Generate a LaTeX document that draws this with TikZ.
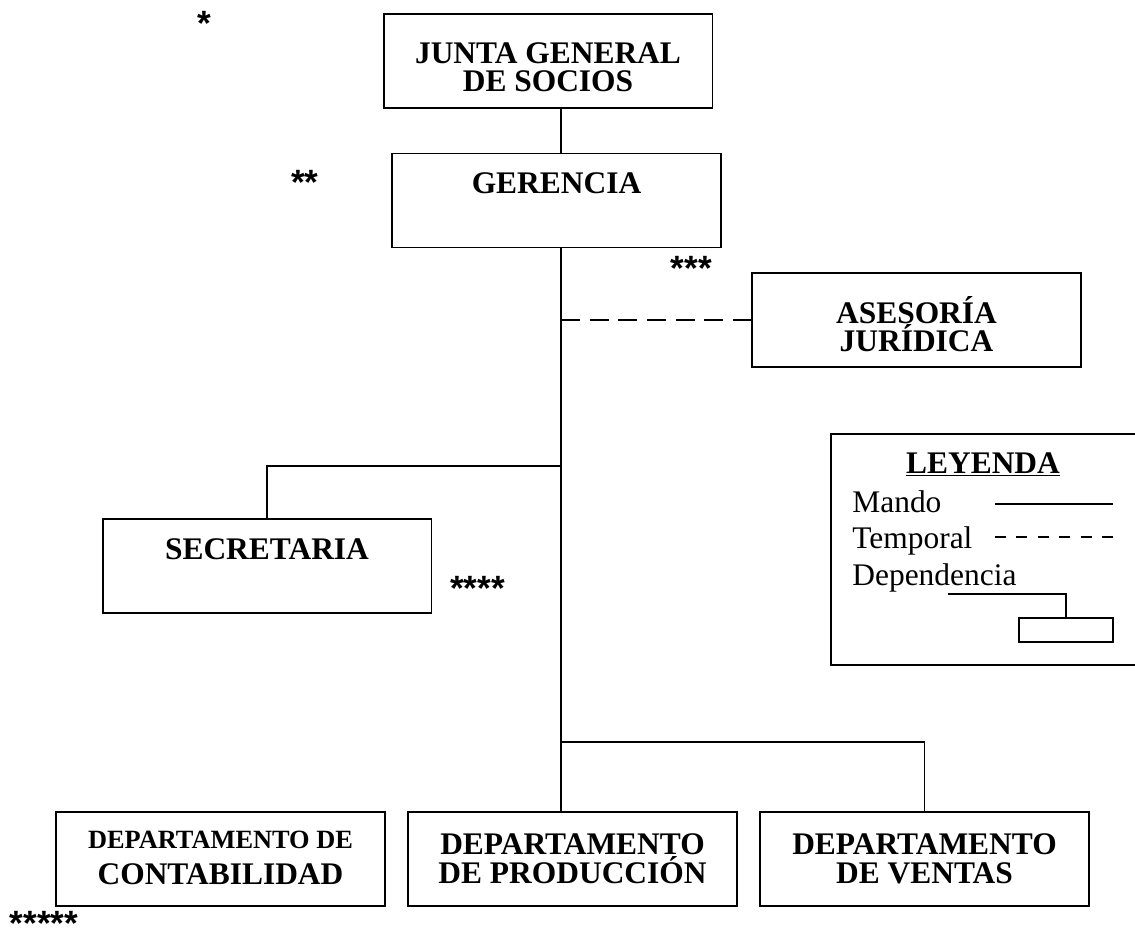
\documentclass[tikz,border=0pt]{standalone}
\usepackage{fontspec}
\setmainfont{Liberation Serif}
\newfontfamily\starfont{Liberation Sans}
\tikzstyle{box} = [rectangle, draw, line width=1.1pt, minimum width=6.58cm,
    minimum height=1.88cm, inner sep=0pt]
\tikzstyle{title} = [font=\bfseries\fontsize{17.9}{16.4}\selectfont,
    align=center, anchor=base, inner sep=0pt]
\tikzstyle{mando} = [draw, line width=0.85pt]
\tikzstyle{temporal} = [draw, line width=0.85pt, dash pattern=on 0.38cm off 0.193cm]
\tikzstyle{stars} = [font=\starfont\bfseries\fontsize{20}{24}\selectfont,
    anchor=base, inner sep=0pt]
\tikzstyle{legtext} = [font=\fontsize{17.9}{20}\selectfont, anchor=base west, inner sep=0pt]

\begin{document}
\begin{tikzpicture}[x=0.02cm, y=-0.02cm]
   \useasboundingbox (0,0) rectangle (1135,935);
   \clip (0,0) rectangle (1135,935);
   % Place nodes
    \node [box] (junta) at (548,61) {};
    \node [box] (ger) at (556.5,200.5) {};
    \node [box] (ase) at (916.5,320) {};
    \node [box] (sec) at (267,566) {};
    \node [box] (cont) at (220.5,859) {};
    \node [box] (prod) at (572.5,859) {};
    \node [box] (ven) at (924.5,859) {};
    \node [title] (junta-t) at (548,92) {JUNTA GENERAL\\DE SOCIOS};
    \node [title] (ger-t) at (556.5,194) {GERENCIA};
    \node [title] (ase-t) at (916.5,352) {ASESORÍA\\JURÍDICA};
    \node [title] (sec-t) at (267,559) {SECRETARIA};
    \node [title] (cont-t) at (220.5,884) {{\fontsize{15}{16.4}\selectfont DEPARTAMENTO DE}\\[4pt]CONTABILIDAD};
    \node [title] (prod-t) at (572.5,883) {DEPARTAMENTO\\DE PRODUCCIÓN};
    \node [title] (ven-t) at (924.5,883) {DEPARTAMENTO\\DE VENTAS};
    % marks
    \node [stars] (s1) at (204,36) {*};
    \node [stars] (s2) at (305,194.5) {**};
    \node [stars] (s3) at (691.5,280.5) {***};
    \node [stars] (s4) at (477.5,600) {****};
    \node [stars] (s5) at (44,935) {*****};
    \coordinate (spine) at (561,0);
    \coordinate (jsec) at (561,466);
    \coordinate (jven) at (561,742);
   % Draw edges
    \path [mando] (junta.south -| spine) -- (ger.north -| spine);
    \path [mando] (ger.south -| spine) -- (prod.north -| spine);
    \path [temporal] (spine |- ase.west) -- (ase.west);
    \path [mando] (jsec) -| (sec.north);
    \path [mando] (jven) -| (ven.north);
   % Legend
    \node [box, minimum width=6.18cm, minimum height=4.62cm] (ley) at (985.5,549.5) {};
    \node [title] (ley-t) at (983,473) {\underline{LEYENDA}};
    \node [legtext] (ley-m) at (852,512) {Mando};
    \node [legtext] (ley-tp) at (852,548) {Temporal};
    \node [legtext] (ley-d) at (852,585) {Dependencia};
    \coordinate (m1) at (995,504);
    \coordinate (m2) at (1113,504);
    \coordinate (t1) at (995,537);
    \coordinate (t2) at (1113,537);
    \coordinate (d1) at (948,594);
    \node [rectangle, draw, line width=1.1pt, minimum width=1.88cm, minimum height=0.48cm,
        inner sep=0pt] (dep) at (1066,630) {};
    \path [mando] (m1) -- (m2);
    \path [draw, line width=0.85pt, dash pattern=on 0.22cm off 0.208cm] (t1) -- (t2);
    \path [mando] (d1) -| (dep.north);
\end{tikzpicture}
\end{document}
